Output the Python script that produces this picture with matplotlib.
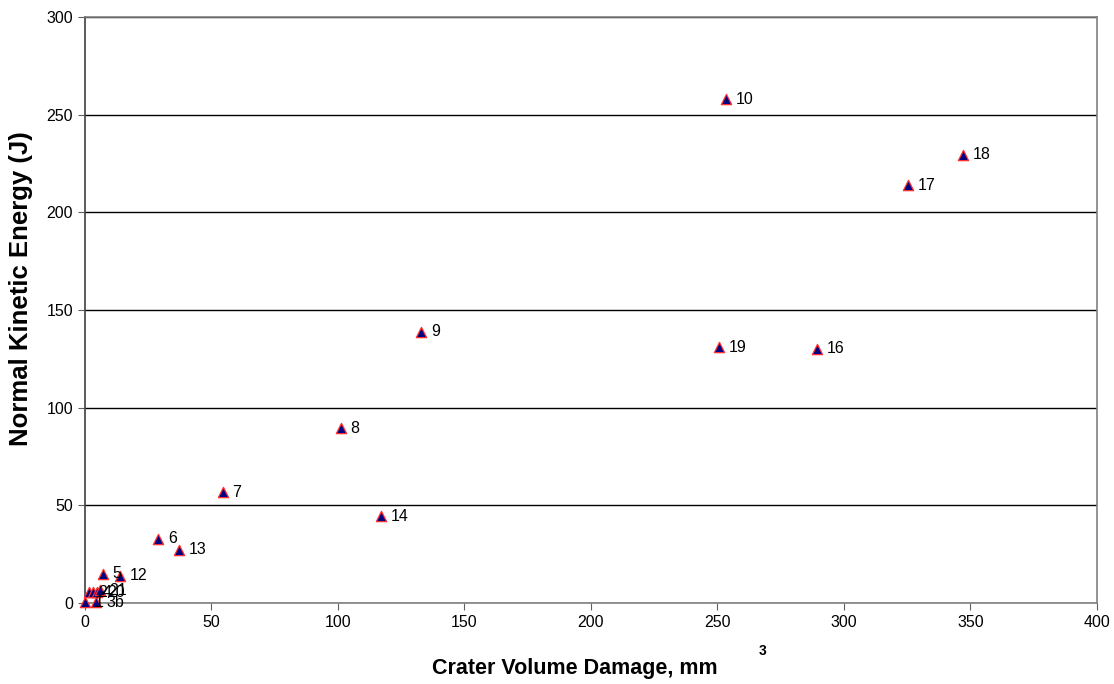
import matplotlib.pyplot as plt

plt.rcParams['font.family'] = ['Liberation Sans', 'DejaVu Sans']

# crater volume (mm^3) vs normal kinetic energy (J), one label per shot
labels = ['1', '3b', '2', '4', '20', '21', '5', '12', '6', '13', '7',
          '14', '8', '9', '19', '10', '16', '17', '18']
volume = [0.0, 4.5, 1.5, 3.2, 4.8, 5.8, 7.1, 14.0, 29.0, 37.0, 54.5,
          117.0, 101.0, 133.0, 250.5, 253.5, 289.5, 325.5, 347.0]
energy = [0.5, 0.5, 5.5, 5.5, 5.5, 6.5, 15.0, 14.0, 32.8, 27.2, 56.6,
          44.5, 89.4, 138.9, 131.0, 257.9, 130.2, 213.8, 229.6]

fig = plt.figure(figsize=(11.14, 6.84), dpi=100)
ax = fig.add_axes([0.0763, 0.1184, 0.9084, 0.8567])

ax.scatter(volume, energy, marker='^', s=55, facecolor='#000080',
           edgecolor='#ff3030', linewidths=0.9, zorder=3, clip_on=False)
for lab, x, y in zip(labels, volume, energy):
    ax.annotate(lab, (x, y), xytext=(7, 0), textcoords='offset points',
                fontsize=11.5, va='center', ha='left', zorder=4)

ax.set_xlim(0, 400)
ax.set_ylim(0, 300)
ax.set_xticks(range(0, 401, 50))
ax.set_yticks(range(0, 301, 50))
ax.yaxis.grid(True, color='black', linewidth=1)
ax.set_axisbelow(True)
for side in ['top', 'right', 'bottom']:
    ax.spines[side].set_color('#808080')
    ax.spines[side].set_linewidth(1.2)
ax.spines['left'].set_color('#404040')
ax.spines['left'].set_linewidth(1.2)
ax.tick_params(direction='out', length=5, color='#606060', labelsize=11.5)

ax.set_ylabel('Normal Kinetic Energy (J)', fontsize=18.5, fontweight='bold',
              va='center')
ax.yaxis.set_label_coords(-0.063, 0.536)
ax.set_xlabel('Crater Volume Damage, mm', fontsize=15.5, fontweight='bold',
              va='center')
ax.xaxis.set_label_coords(0.484, -0.111)
fig.text(0.681, 0.042, '3', fontsize=10, fontweight='bold')

fig.savefig('out.png', dpi=100)
